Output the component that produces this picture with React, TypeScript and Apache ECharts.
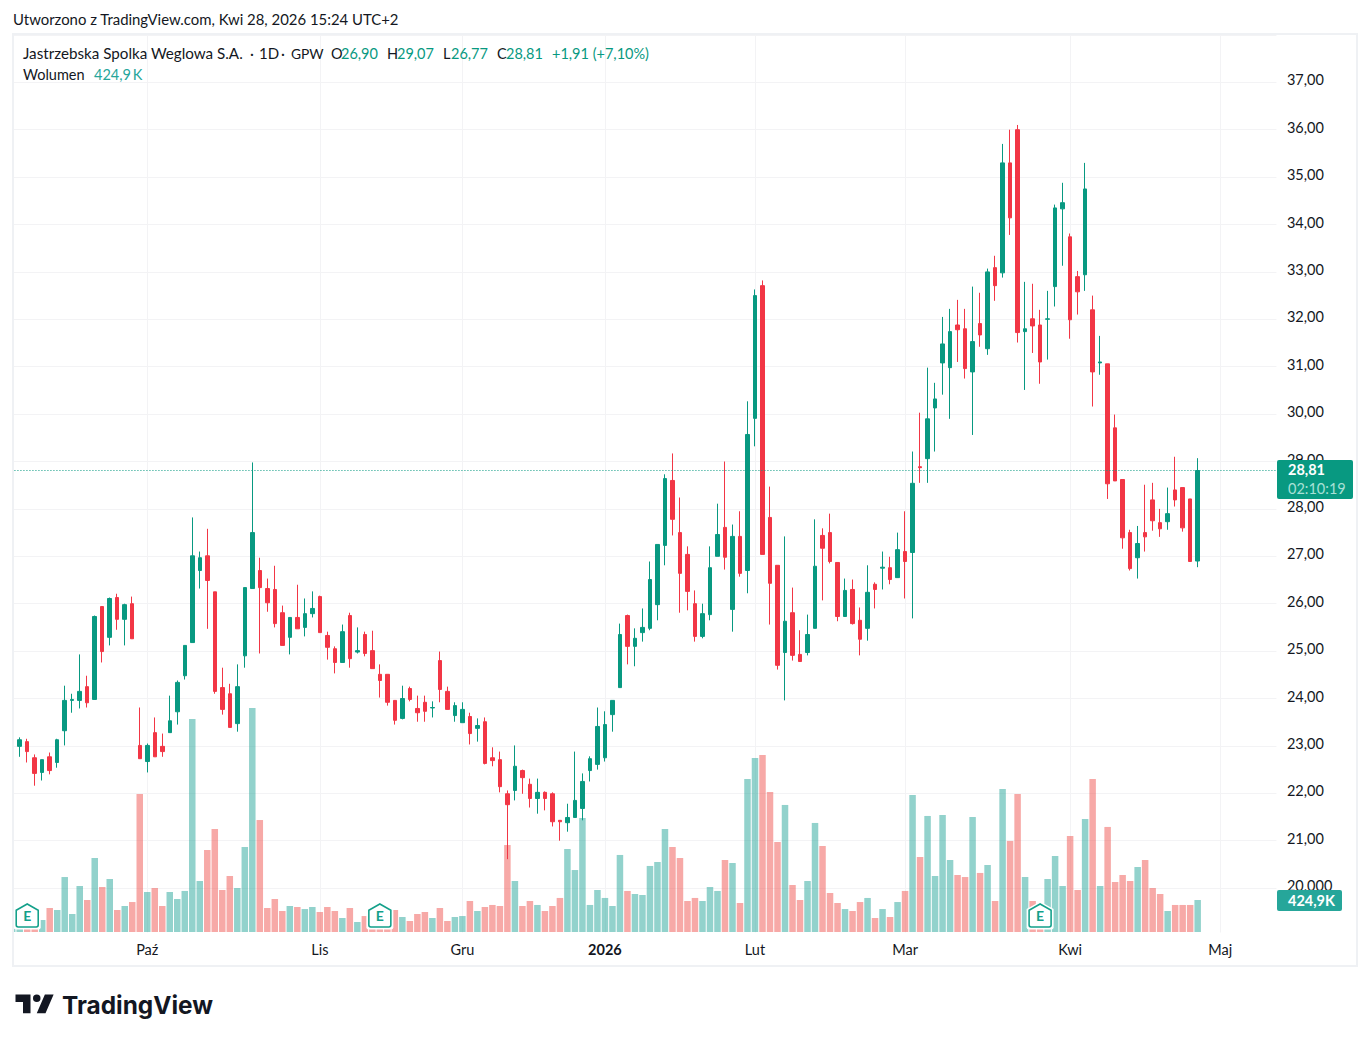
import React, { useEffect, useRef } from "react";
import * as echarts from "echarts";

const opens = [22.72,22.99,23.09,22.75,22.44,22.77,22.65,23.32,23.96,23.96,24.25,23.98,25.94,25.29,26.13,25.67,26.0,23.01,22.67,23.28,
22.99,23.28,23.72,24.48,25.18,26.7,27.01,26.25,24.23,24.1,23.47,24.9,26.32,26.7,26.32,26.3,25.81,25.29,25.71,25.5,
25.79,26.15,25.33,25.05,24.76,25.75,24.98,25.35,25.01,24.51,24.51,23.96,23.58,24.21,23.79,23.92,23.8,24.8,24.15,23.64,
23.49,23.62,23.37,23.51,22.75,22.71,21.99,22.06,22.48,22.19,21.89,22.02,21.99,21.43,21.38,21.49,21.68,22.48,22.61,22.75,
23.66,24.23,25.75,25.1,25.39,25.48,25.98,27.23,28.6,27.5,27.04,26.0,25.31,25.77,27.0,27.61,25.88,27.42,26.7,29.91,
32.71,27.82,26.81,24.97,25.81,24.93,24.97,25.48,27.44,27.5,26.87,25.73,26.3,25.65,25.48,26.41,26.75,26.76,26.55,27.1,
27.08,28.89,29.06,30.13,31.08,30.98,31.88,31.8,30.89,31.91,31.38,33.09,32.98,35.3,36.0,31.74,32.01,31.88,32.0,32.69,
34.33,33.74,32.9,32.94,32.2,31.08,31.06,29.71,28.62,27.5,26.97,27.5,28.19,27.71,27.73,28.4,28.45,28.21,26.9];
const closes = [22.78,23.13,22.88,22.42,22.71,22.48,23.13,23.96,23.98,24.15,23.91,25.73,24.99,26.11,25.67,25.98,25.26,22.73,23.01,22.77,
22.88,23.53,24.34,25.12,27.01,26.97,26.49,24.15,23.77,23.39,24.25,26.34,27.5,26.34,26.02,25.58,25.12,25.71,25.47,25.79,
25.9,25.39,25.08,24.76,25.41,24.84,25.01,24.95,24.63,24.38,23.92,23.54,24.0,23.98,23.7,23.73,23.81,24.19,23.77,23.85,
23.77,23.26,23.43,22.63,22.69,22.14,21.76,22.57,22.33,21.89,22.02,21.89,21.4,21.4,21.49,21.85,22.25,22.73,23.41,23.45,
23.96,25.35,25.1,25.27,25.5,26.51,27.25,28.64,27.78,26.64,26.26,25.31,25.79,26.76,27.46,26.98,27.42,26.64,29.57,32.5,
27.04,26.43,24.7,25.63,24.91,24.78,25.35,26.79,27.17,26.89,25.73,26.28,25.58,25.25,26.24,26.3,26.77,26.51,27.14,26.89,
28.54,28.87,29.9,30.32,31.48,31.74,31.78,30.96,31.53,31.67,33.0,32.71,35.3,34.14,31.72,31.8,31.86,31.1,32.01,34.35,
34.46,31.99,32.58,34.75,30.89,31.1,28.53,28.59,27.39,26.74,27.27,27.41,27.75,27.58,27.9,28.19,27.6,26.89,28.81];
const lows = [22.7,22.77,22.65,22.16,22.27,22.4,22.54,23.01,23.7,23.79,23.81,23.98,24.76,25.12,25.45,25.12,25.26,22.73,22.44,22.77,
22.77,23.28,23.45,24.4,25.18,26.32,25.47,24.1,23.66,23.39,23.3,24.65,26.32,24.95,25.83,25.5,25.12,24.93,25.47,25.31,
25.71,25.39,24.82,24.53,24.76,24.65,24.95,24.89,24.63,24.02,23.85,23.45,23.56,23.94,23.51,23.51,23.6,23.92,23.77,23.51,
23.49,23.03,23.09,22.61,22.57,22.02,20.61,21.85,21.99,21.7,21.57,21.64,21.3,21.0,21.19,21.49,21.43,22.25,22.5,22.67,
23.3,24.23,24.72,24.68,25.2,25.44,25.65,26.81,27.44,25.81,25.86,25.2,25.27,25.65,27.0,26.72,25.41,26.57,26.22,29.32,
27.04,25.56,24.61,23.96,24.8,24.78,24.91,25.48,26.07,26.85,25.63,25.73,25.56,24.91,25.22,25.9,26.3,26.41,26.55,26.11,
25.69,28.55,28.55,29.21,30.41,29.9,31.1,30.75,29.56,31.42,31.25,32.39,32.88,33.78,31.51,30.51,31.29,30.64,31.15,32.27,
33.13,31.59,32.1,32.6,30.16,30.83,28.21,28.59,27.16,26.7,26.53,27.1,27.54,27.41,27.56,28.05,27.52,26.89,26.77];
const highs = [22.8,23.18,23.15,22.82,22.71,22.86,23.15,24.27,24.1,24.93,24.48,25.75,25.94,26.13,26.21,26.0,26.15,23.81,23.05,23.6,
23.26,24.06,24.38,25.12,27.82,27.1,27.58,26.25,24.65,24.31,24.72,26.34,28.98,26.97,26.53,26.8,25.96,25.71,26.4,26.11,
26.26,26.17,25.41,25.1,25.56,25.81,25.5,25.41,25.43,24.72,24.51,23.96,24.27,24.25,24.06,24.06,23.94,24.99,24.25,23.92,
23.92,23.7,23.58,23.6,22.97,22.88,22.06,23.01,22.5,22.31,22.31,22.04,22.02,21.43,21.78,22.88,22.42,22.78,23.81,23.73,
23.96,25.58,25.77,25.48,25.9,26.89,27.25,28.73,29.17,28.24,27.21,26.28,26.0,27.21,28.11,29.0,27.67,27.95,30.27,32.63,
32.82,28.47,26.81,27.42,26.34,25.44,25.77,27.78,27.59,27.9,26.87,26.53,26.51,25.92,26.81,26.45,27.1,26.99,27.5,27.95,
29.21,30.03,30.98,30.66,32.05,32.22,32.41,32.22,32.69,32.56,33.07,33.34,35.7,36.0,36.1,32.79,32.75,32.2,32.6,34.42,
34.88,33.81,33.02,35.3,32.5,31.65,31.06,29.99,28.62,27.56,27.64,28.51,28.55,28.0,28.45,29.1,28.45,28.21,29.07];
// thousands of shares
const volumes = [212,250,260,240,159,319,292,730,239,611,425,983,598,704,292,345,398,1833,531,584,
345,531,438,545,2829,677,1089,1368,558,744,584,1129,2975,1487,319,438,279,345,332,305,
332,266,332,279,186,319,133,212,210,230,200,292,199,146,239,266,186,319,146,199,
212,412,279,332,359,345,1155,677,345,412,359,279,345,452,1102,823,1514,359,558,452,
345,1023,545,505,491,877,930,1368,1129,983,412,452,412,598,545,956,916,385,2032,2311,
2351,1859,1195,1687,624,425,677,1448,1142,518,385,305,279,398,452,186,305,199,398,545,
1819,996,1541,744,1554,956,757,730,1527,784,890,412,1899,1209,1833,730,412,300,704,1009,
611,1275,558,1501,2032,611,1395,664,757,677,863,956,584,505,279,359,359,359,425];

const monthLabels: Record<string, string> = {
  "2025-10-01": "Paź", "2025-11-03": "Lis", "2025-12-01": "Gru", "2026-01-02": "2026",
  "2026-02-02": "Lut", "2026-03-02": "Mar", "2026-04-01": "Kwi", "2026-05-04": "Maj",
};
const holidays = ["2025-11-11","2025-12-24","2025-12-25","2025-12-26","2025-12-31","2026-01-01","2026-01-06","2026-04-03","2026-04-06","2026-05-01"];
const earningsDays = [2, 49, 137];
const earningsLevel = 219;
const priceTicks = { min: 19, max: 38, step: 1 };
const titleText = "Utworzono z TradingView.com, Kwi 28, 2026 15:24 UTC+2";
const legendParts = [["Jastrzebska Spolka Weglowa S.A.", 23, 15.2], ["·", 250, 15], ["1D", 259, 15], ["·", 281, 15], ["GPW", 291, 13.8]] as const;
const ohlcLegend = [["O","26,90",331,341],["H","29,07",387,397],["L","26,77",443,451],["C","28,81",497,506]] as const;
const changeText = "+1,91 (+7,10%)";
const volumeText = "424,9\u2009K";
const lastPrice = 28.81;

const UP = "#089981", DOWN = "#F23645", VOL_UP = "rgba(38,166,154,0.5)", VOL_DOWN = "rgba(239,83,80,0.5)";
const GRID = "#F3F3F5", BORDER = "#EFF1F4", TEXT = "#131722";
const FONT = "Lato";
const FS = 14.5;

function buildDays(): string[] {
  const out: string[] = [];
  const d = new Date(Date.UTC(2025, 8, 5));
  while (out.length < 169) {
    const s = d.toISOString().slice(0, 10);
    const wd = d.getUTCDay();
    if (wd !== 0 && wd !== 6 && !holidays.includes(s)) out.push(s);
    d.setUTCDate(d.getUTCDate() + 1);
  }
  return out;
}

echarts.graphic.registerShape(
  "tvlogo",
  echarts.graphic.extendPath("M14 6H2v6h6v9h6V6Zm12 15h-7l6.5-15h7L26 21Zm-7-9a3 3 0 1 0 0-6 3 3 0 0 0 0 6Z", {})
);

const BADGE = "path://M0 6.5L11.5 0L23 6.5V22Q23 24 21 24H2Q0 24 0 22Z";

function txt(text: string, x: number, y: number, fill: string, extra: any = {}) {
  return {
    type: "text", x, y, z: 200, silent: true,
    style: { text, fill, fontFamily: FONT, fontSize: FS, verticalAlign: "middle", align: "left", ...extra },
  };
}

export default function App() {
  const ref = useRef<HTMLDivElement>(null);
  useEffect(() => {
    const chart = echarts.init(ref.current!, undefined, { renderer: "svg" });
    const days = buildDays();
    const isMonth = (_: number, name: string) => name in monthLabels;
    const left = 8.45, width = 1268;
    const candle = opens.map((o, i) => [o, closes[i], lows[i], highs[i]]);
    const vols = volumes.map((v, i) => ({
      value: v,
      itemStyle: { color: closes[i] >= opens[i] ? VOL_UP : VOL_DOWN },
    }));
    const graphic: any[] = [
      { type: "rect", z: 150, silent: true, shape: { x: 0, y: 30, width: 12.5, height: 910 }, style: { fill: "#fff" } },
      { type: "rect", z: 150, silent: true, shape: { x: 12, y: 932.5, width: 1266, height: 3.5 }, style: { fill: "#fff" } },
      { type: "rect", z: 151, silent: true, shape: { x: 13, y: 34, width: 1344, height: 932 }, style: { fill: "none", stroke: BORDER, lineWidth: 2 } },
      txt(titleText, 13, 19, TEXT, { fontSize: 14.9 }),
      ...legendParts.map(([t, x, s]) => txt(t, x, 53, TEXT, { fontSize: s })),
      ...ohlcLegend.flatMap(([k, v, kx, vx]) => [txt(k, kx, 53, TEXT), txt(v, vx, 53, UP)]),
      txt(changeText, 552, 53, UP),
      txt("Wolumen", 23, 74, TEXT),
      txt(volumeText, 94, 74, "#26A69A"),
      { type: "rect", z: 190, silent: true, shape: { x: 1277, y: 460, width: 76, height: 39, r: 2 }, style: { fill: UP } },
      txt("28,81", 1288, 469.5, "#fff", { fontWeight: 700 }),
      txt("02:10:19", 1288, 488, "#A8E0D6"),
      { type: "rect", z: 190, silent: true, shape: { x: 1277, y: 890, width: 65, height: 21, r: 2 }, style: { fill: "#26A69A" } },
      txt("424,9K", 1288, 900, "#fff", { fontWeight: 700 }),
      { type: "tvlogo", x: 13, y: 987, scaleX: 1.25, scaleY: 1.25, z: 200, silent: true, style: { fill: "#131722" } },
      txt("TradingView", 62, 1005, "#131722", { fontFamily: "Inter", fontWeight: 700, fontSize: 24.4 }),
    ];
    chart.setOption({
      animation: false,
      backgroundColor: "#fff",
      grid: [
        { left, width, top: 34.9, height: 900.6 },
        { left, width, top: 500, height: 432 },
      ],
      xAxis: [
        {
          type: "category", gridIndex: 0, data: days, boundaryGap: true,
          axisLine: { show: false }, axisTick: { show: false },
          splitLine: { show: true, interval: isMonth, alignWithLabel: true, lineStyle: { color: GRID, width: 1 } },
          axisLabel: {
            interval: isMonth, margin: 6.5, color: TEXT, fontFamily: FONT, fontSize: FS,
            formatter: (v: string) => (monthLabels[v] === "2026" ? "{b|2026}" : monthLabels[v] ?? ""),
            rich: { b: { fontWeight: 700, fontFamily: FONT, fontSize: FS, color: TEXT } },
          },
        },
        { type: "category", gridIndex: 1, data: days, boundaryGap: true, show: false },
      ],
      yAxis: [
        {
          type: "value", gridIndex: 0, position: "right",
          min: priceTicks.min, max: priceTicks.max, interval: priceTicks.step,
          axisLine: { show: false }, axisTick: { show: false },
          splitLine: { show: true, lineStyle: { color: GRID, width: 1 } },
          axisLabel: {
            margin: 10.5, color: TEXT, fontFamily: FONT, fontSize: FS,
            showMinLabel: false, showMaxLabel: false,
            formatter: (v: number) => `{p|${v === 20 ? "20,000" : v.toFixed(2).replace(".", ",")}}`,
            rich: { p: { color: TEXT, fontFamily: FONT, fontSize: FS, padding: [0, 0, 5, 0] } },
          },
        },
        { type: "value", gridIndex: 1, min: 0, max: 5737, show: false, splitLine: { show: false } },
      ],
      series: [
        {
          type: "bar", xAxisIndex: 1, yAxisIndex: 1, data: vols, barWidth: 6.5, z: 2, silent: true,
        },
        {
          type: "candlestick", xAxisIndex: 0, yAxisIndex: 0, data: candle, barWidth: 4, z: 3, silent: true,
          itemStyle: { color: UP, color0: DOWN, borderColor: UP, borderColor0: DOWN, borderWidth: 1 },
          markLine: {
            silent: true, symbol: "none", label: { show: false },
            lineStyle: { color: UP, type: [1, 2], width: 1 },
            data: [{ yAxis: lastPrice }],
          },
        },
        {
          type: "scatter", xAxisIndex: 1, yAxisIndex: 1, z: 4, silent: true,
          data: earningsDays.map((d) => [d, earningsLevel]),
          symbol: BADGE, symbolSize: [27, 28],
          itemStyle: { color: "#fff", opacity: 1 },
        },
        {
          type: "scatter", xAxisIndex: 1, yAxisIndex: 1, z: 5, silent: true,
          data: earningsDays.map((d) => [d, earningsLevel]),
          symbol: BADGE, symbolSize: [22, 23],
          itemStyle: { color: "#fff", borderColor: "#13A08A", borderWidth: 1.6, opacity: 1 },
          label: { show: true, position: "inside", formatter: "E", color: "#13A08A", fontFamily: FONT, fontWeight: 700, fontSize: 14 },
        },
      ],
      graphic,
    });
    return () => chart.dispose();
  }, []);
  return <div ref={ref} style={{ position: "absolute", left: 0, top: 0, width: 1371, height: 1042 }} />;
}
